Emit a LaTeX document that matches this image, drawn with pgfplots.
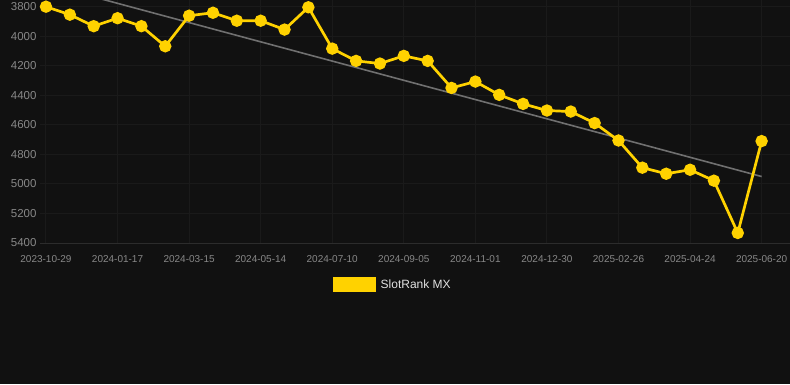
\documentclass[border=0pt]{standalone}
\usepackage{pgfplots}
\pgfplotsset{compat=1.18}
\usepackage{fontspec}
\setmainfont{Liberation Sans}
\definecolor{bg}{HTML}{111111}
\definecolor{gridc}{HTML}{1A1A1A}
\definecolor{axc}{HTML}{2C2C2C}
\definecolor{ticklab}{HTML}{888888}
\definecolor{gold}{HTML}{FFD200}
\definecolor{trend}{HTML}{707070}
\definecolor{legtext}{HTML}{E0E0E0}
\begin{document}
\begin{tikzpicture}[x=1bp,y=1bp]
\useasboundingbox (0,0) rectangle (790,384);
\fill[bg] (0,0) rectangle (790,384);
\begin{axis}[
  at={(40bp,141bp)}, anchor=south west,
  scale only axis, width=750bp, height=243bp,
  xmin=-0.251, xmax=31.19,
  ymin=3754.7, ymax=5400, y dir=reverse,
  axis line style={draw=none},
  major tick length=0pt,
  grid=major, grid style={gridc, line width=1bp},
  xtick={0,3,...,30},
  xticklabels={2023-10-29,2024-01-17,2024-03-15,2024-05-14,2024-07-10,2024-09-05,2024-11-01,2024-12-30,2025-02-26,2025-04-24,2025-06-20},
  ytick={3800,4000,...,5400},
  /pgf/number format/assume math mode=true,
  /pgf/number format/1000 sep={},
  xticklabel style={font=\fontsize{10bp}{12bp}\selectfont, text=ticklab, yshift=-9bp},
  yticklabel style={font=\fontsize{11.5bp}{13bp}\selectfont, text=ticklab},
  legend style={draw=none, fill=none, text=legtext, font=\fontsize{12bp}{14bp}\selectfont,
    at={(0.4705,-0.171)}, anchor=center,
    /tikz/every odd column/.append style={column sep=3bp}},
]
\draw[axc, line width=1bp] (axis cs:-0.251,5400) -- (axis cs:31.19,5400);
\addplot[trend, line width=1.6bp, forget plot] coordinates {(0,3647) (30,4950)};
\addplot[gold, line width=2.7bp, mark=*, mark size=4.8bp, mark options={fill=gold, draw=gold},
  legend image code/.code={\fill[gold] (0bp,-6bp) rectangle (40bp,6bp);}]
 coordinates {
 (0,3800) (1,3854) (2,3932) (3,3878) (4,3932) (5,4068) (6,3861) (7,3841) (8,3895) (9,3895)
 (10,3955) (11,3804) (12,4084) (13,4167) (14,4185) (15,4133) (16,4167) (17,4350) (18,4307) (19,4397)
 (20,4458) (21,4503) (22,4510) (23,4588) (24,4706) (25,4890) (26,4931) (27,4904) (28,4978) (29,5332)
 (30,4710)
 };
\addlegendentry{SlotRank MX}
\end{axis}
\end{tikzpicture}
\end{document}
